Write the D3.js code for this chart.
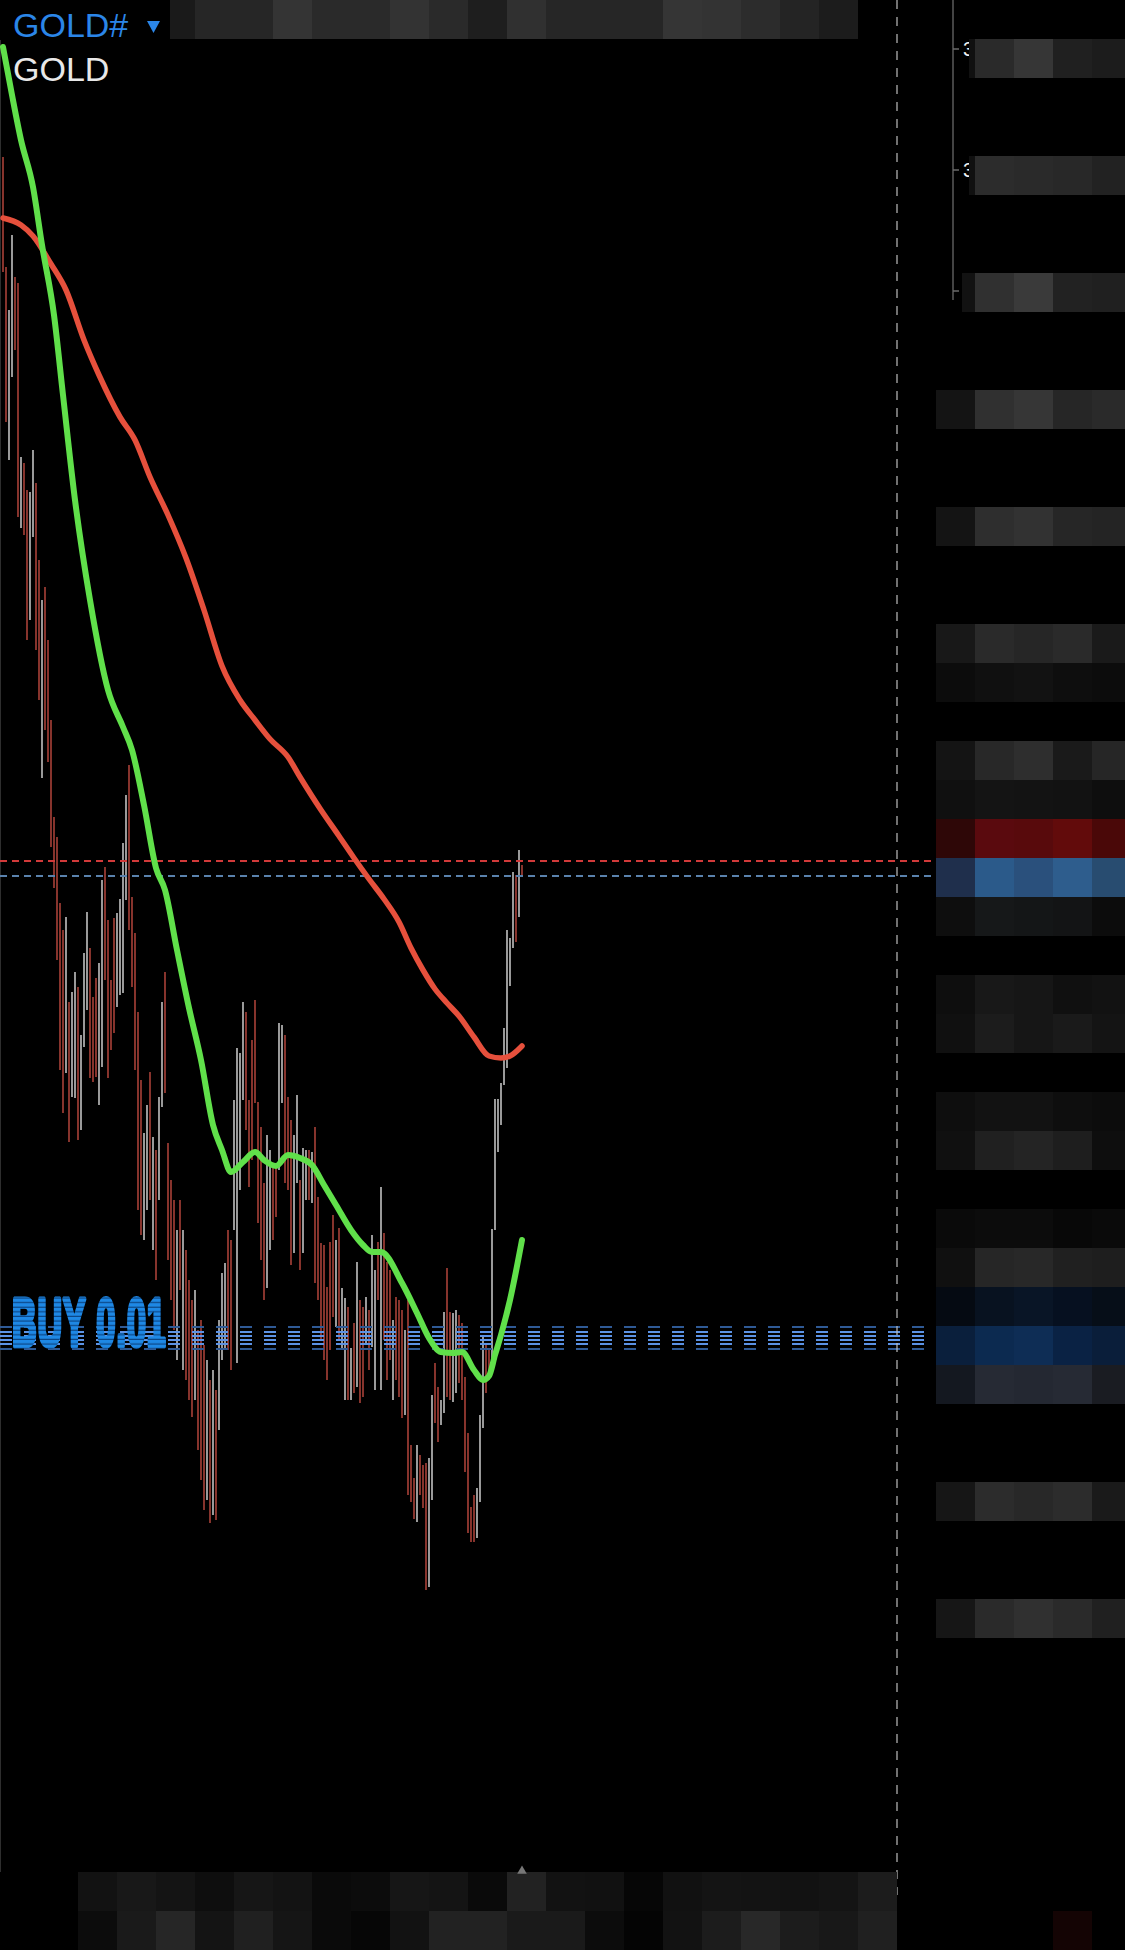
<!DOCTYPE html>
<html><head><meta charset="utf-8">
<script src="https://cdn.jsdelivr.net/npm/d3@7"></script>
<style>html,body{margin:0;padding:0;background:#000;overflow:hidden} svg{display:block}</style>
</head><body>
<svg id="c" width="1125" height="1950"></svg>
<script>
// ---------- DATA ----------
const symbol = "GOLD#";
const symbolName = "GOLD";
const orderLabel = "BUY 0.01";
const highs = [3384.3,3373.3,3369.0,3376.5,3372.3,3371.7,3354.3,3353.7,3351.0,3350.8,
3355.0,3351.7,3344.0,3340.0,3341.3,3336.0,3328.0,3318.3,3316.3,3309.7,
3307.0,3308.3,3299.8,3300.8,3302.8,3301.3,3296.5,3304.7,3308.8,3305.2,
3300.3,3302.2,3303.7,3312.0,3313.3,3308.0,3302.0,3308.2,3308.7,3310.1,
3315.7,3320.5,3323.5,3310.3,3306.7,3298.8,3292.0,3286.7,3289.5,3292.8,
3286.3,3285.0,3290.3,3299.8,3302.8,3285.7,3282.0,3280.0,3277.0,3280.0,
3277.0,3275.0,3272.0,3270.0,3271.0,3267.0,3268.0,3265.5,3264.0,3262.0,
3263.0,3261.0,3268.0,3272.7,3273.7,3277.0,3276.0,3290.0,3295.2,3294.7,
3299.8,3298.8,3290.0,3296.0,3300.0,3289.8,3287.3,3281.7,3286.5,3285.0,
3283.7,3283.3,3297.7,3297.5,3296.5,3290.3,3288.0,3286.5,3290.5,3282.0,
3285.2,3285.0,3285.0,3284.8,3287.3,3280.3,3275.7,3275.5,3271.3,3275.8,
3278.5,3276.0,3277.2,3271.2,3270.2,3269.3,3265.2,3267.7,3273.8,3270.0,
3269.3,3270.3,3269.0,3276.5,3273.0,3275.8,3281.3,3276.7,3273.8,3273.0,
3268.0,3270.3,3270.0,3269.0,3267.0,3270.0,3255.5,3252.2,3255.5,3254.5,
3253.5,3253.7,3254.2,3260.5,3263.7,3261.3,3260.0,3268.8,3273.2,3268.8,
3268.7,3269.0,3268.5,3267.7,3262.3,3256.7,3249.3,3250.5,3251.2,3258.5,
3266.5,3265.5,3265.0,3277.1,3290.1,3290.1,3291.7,3297.2,3307.0,3306.2,
3312.8,3312.5,3315.0,3313.5];
const lows = [3372.8,3357.8,3354.0,3362.3,3365.0,3348.3,3347.2,3346.5,3336.0,3338.0,
3346.3,3335.0,3330.0,3322.2,3327.0,3323.8,3315.3,3311.2,3304.0,3293.0,
3288.7,3292.7,3285.8,3290.3,3290.2,3286.0,3287.0,3295.3,3299.0,3292.2,
3291.8,3292.3,3289.5,3293.3,3302.0,3292.2,3295.0,3296.7,3299.3,3300.5,
3300.7,3310.0,3307.0,3301.3,3293.0,3279.0,3276.5,3276.0,3279.0,3280.0,
3275.0,3272.0,3280.0,3289.3,3290.7,3274.0,3270.0,3267.0,3264.0,3271.0,
3263.0,3262.0,3260.0,3258.3,3260.0,3255.0,3252.0,3249.0,3250.0,3247.7,
3248.5,3248.0,3257.0,3264.0,3265.0,3265.0,3263.0,3277.0,3263.7,3281.0,
3290.0,3287.0,3281.3,3284.0,3289.7,3277.7,3274.0,3270.0,3271.2,3275.0,
3276.0,3278.3,3283.0,3289.7,3281.7,3281.0,3273.5,3274.7,3281.7,3273.0,
3274.7,3280.0,3280.0,3279.7,3271.7,3270.0,3266.0,3264.0,3262.0,3265.0,
3268.3,3267.3,3266.0,3265.0,3260.0,3260.0,3260.0,3260.7,3261.3,3259.7,
3260.3,3265.7,3263.0,3265.3,3261.0,3270.0,3261.0,3266.0,3262.0,3264.0,
3260.0,3262.0,3260.3,3258.2,3258.5,3250.5,3249.8,3248.1,3247.8,3250.5,
3249.2,3241.0,3241.3,3250.0,3257.7,3255.8,3257.5,3258.7,3260.3,3260.0,
3259.8,3260.7,3261.7,3260.0,3252.8,3246.7,3245.8,3245.8,3246.2,3249.8,
3257.2,3260.7,3262.0,3262.7,3277.0,3284.8,3287.5,3291.5,3293.2,3301.4,
3305.2,3305.8,3308.3,3312.3];
// 1 = bullish bar, 0 = bearish bar
const bull = [0,0,1,1,0,0,1,0,0,1, 1,0,0,1,0,0,0,0,0,0, 0,1,0,1,1,0,1,1,1,0,
0,0,1,1,0,0,0,0,1,1, 1,1,0,0,0,0,0,1,1,0, 1,0,1,1,0,0,0,0,1,0,
1,0,0,0,1,0,0,0,1,0, 1,0,1,1,1,0,0,1,1,1, 1,0,0,0,0,0,0,0,1,1,
0,0,1,1,0,0,0,1,1,0, 1,1,0,1,0,0,0,0,0,0, 0,1,0,1,1,0,1,0,1,0,
0,1,0,1,1,0,1,0,0,0, 1,0,0,0,1,0,0,0,1,0, 0,0,1,1,0,0,1,1,0,0,
1,1,0,0,0,0,0,0,1,1, 1,0,0,1,1,1,1,1,1,1, 1,0,1,0];
// fast moving average (green), read at bar positions
const fastIdx = [0,3,6,10,13,17,20,24,29,35,40,43,47,51,54,58,62,66,70,73,76,80,84,87,91,95,99,103,107,111,116,120,123,126,133,138,142,146,150,153,157,160,162,164,166,169,173];
const fastVal = [3395.3,3390.5,3386.0,3381.3,3375.5,3368.5,3360.5,3350.0,3340.0,3331.0,
3327.3,3325.0,3319.5,3313.2,3311.0,3305.0,3299.2,3294.0,3287.5,3285.0,
3282.8,3283.8,3284.8,3284.0,3283.4,3284.5,3284.2,3283.5,3281.5,3279.5,
3277.0,3275.5,3274.8,3274.8,3271.7,3268.7,3266.2,3264.8,3264.7,3264.8,
3263.0,3262.0,3262.4,3264.5,3266.5,3270.0,3276.0];
// slow moving average (red)
const slowIdx = [0,6,10,16,21,27,32,39,44,49,55,61,67,73,79,84,89,95,99,106,112,117,122,127,132,136,140,144,148,152,157,162,166,169,173];
const slowVal = [3378.2,3377.5,3376.4,3373.6,3371.0,3366.0,3362.5,3358.3,3356.0,3352.3,
3348.5,3344.2,3339.0,3333.4,3330.0,3328.0,3326.1,3324.3,3322.3,3319.0,
3316.4,3314.2,3312.1,3310.1,3307.8,3305.2,3303.0,3301.1,3299.7,3298.4,
3296.3,3294.4,3294.2,3294.4,3295.4];
const askPrice = 3313.9;
const bidPrice = 3312.4;
const buyLevels = [3267.3, 3266.8, 3266.4, 3266.0, 3265.6, 3265.1];
const axisTicks = [3395.1, 3383.0, 3370.9];
const axisTickLabels = ["3395.10", "3383.00", "3370.90"];

// ---------- blurred (pixelated) panels: gray levels ----------
const topBarShades = [0x1a,0x26,0x26,0x34,0x2a,0x2a,0x33,0x2a,0x1e,0x30,0x26,0x26,0x26,0x35,0x33,0x2c,0x24,0x1c];
const bottomRowA = [0x12,0x18,0x14,0x0e,0x16,0x13,0x0a,0x0c,0x16,0x14,0x0a,0x22,0x12,0x11,0x06,0x11,0x14,0x13,0x12,0x14,0x1c];
const bottomRowB = [0x0c,0x1a,0x26,0x14,0x20,0x15,0x0a,0x06,0x12,0x22,0x22,0x1a,0x1a,0x0c,0x04,0x12,0x1c,0x28,0x1c,0x18,0x20];
const priceRows = [1,4,7,10,13,16,17,19,20,21,22,23,25,26,28,29,31,32,33,34,35,38,41,49];
const priceRowColors = [
 ["#101010","#2a2a2a","#363636","#202020","#1c1c1c"],
 ["#101010","#2c2c2c","#2a2a2a","#282828","#222222"],
 ["#121212","#303030","#3a3a3a","#222222","#202020"],
 ["#141414","#303030","#363636","#262626","#2a2a2a"],
 ["#141414","#2e2e2e","#323232","#262626","#242424"],
 ["#181818","#2a2a2a","#262626","#2a2a2a","#1a1a1a"],
 ["#0c0c0c","#101010","#121212","#0e0e0e","#0c0c0c"],
 ["#141414","#282828","#2e2e2e","#1a1a1a","#262626"],
 ["#101010","#141414","#131313","#121212","#0e0e0e"],
 ["#2e0707","#5a0a0e","#580a0c","#620b0b","#4a0808"],
 ["#1f2f4c","#2b5a8a","#2a507c","#2e5d8d","#284c70"],
 ["#0e0e0e","#161819","#141617","#131415","#0c0c0c"],
 ["#0e0e0e","#181818","#161616","#101010","#121212"],
 ["#101010","#1c1c1c","#161616","#1a1a1a","#141414"],
 ["#0e0e0e","#121212","#121212","#0e0e0e","#0c0c0c"],
 ["#101010","#202020","#242424","#1e1e1e","#0e0e0e"],
 ["#0a0a0a","#0c0c0c","#0c0c0c","#080808","#0a0a0a"],
 ["#101010","#262626","#282828","#202020","#1e1e1e"],
 ["#050a12","#081220","#091526","#061020","#060e18"],
 ["#0a1f3c","#0c2a50","#0e2d55","#0a2244","#0a1e3a"],
 ["#141820","#262a34","#242832","#262a34","#1a1c22"],
 ["#161616","#2c2c2c","#282828","#2c2c2c","#1a1a1a"],
 ["#161616","#2a2a2a","#303030","#2a2a2a","#202020"],
 ["#000000","#000000","#000000","#140404","#000000"]
];
const priceRowStart = [969,969,962]; // first label rows start a little to the right

// ---------- DRAW ----------
const W = 1125, H = 1950, CELL = 39;
const svg = d3.select("#c");
const defs = svg.append("defs");
const pat = defs.append("pattern").attr("id","stripes").attr("patternUnits","userSpaceOnUse")
  .attr("width",8).attr("height",4.6).attr("y",1294);
pat.append("rect").attr("width",8).attr("height",4.6).attr("fill","#1e88e5");
pat.append("rect").attr("y",3.4).attr("width",8).attr("height",1.2).attr("fill","#0b4584");

svg.append("rect").attr("width", W).attr("height", H).attr("fill", "#000");

const y = d3.scaleLinear().domain([3212.8, 3400]).range([1872, 0]);
const x = d3.scaleLinear().domain([0, highs.length - 1]).range([3, 522]);

// left border
svg.append("line").attr("x1",0.5).attr("x2",0.5).attr("y1",40).attr("y2",1872)
  .attr("stroke","#2e2e2e").attr("stroke-width",1);

// candles (high-low bars)
svg.append("g").selectAll("line").data(d3.range(highs.length)).join("line")
  .attr("x1", i => x(i)).attr("x2", i => x(i))
  .attr("y1", i => y(highs[i])).attr("y2", i => y(lows[i]))
  .attr("stroke", i => bull[i] ? "#dcdcdc" : "#c04a40")
  .attr("stroke-width", 1.4);

// bid/ask dashed lines
svg.append("line").attr("x1",0).attr("x2",940).attr("y1",y(askPrice)).attr("y2",y(askPrice))
  .attr("stroke","#d23a3a").attr("stroke-width",2).attr("stroke-dasharray","7,5");
svg.append("line").attr("x1",0).attr("x2",940).attr("y1",y(bidPrice)).attr("y2",y(bidPrice))
  .attr("stroke","#5a82ad").attr("stroke-width",2).attr("stroke-dasharray","7,5");

// order lines
svg.append("g").selectAll("line").data(buyLevels).join("line")
  .attr("x1",0).attr("x2",928).attr("y1", d => y(d)).attr("y2", d => y(d))
  .attr("stroke", (d,i) => (i === 0 || i === buyLevels.length-1) ? "#2f5a96" : "#5c93e6")
  .attr("stroke-width", 2).attr("stroke-dasharray","12,12");

// moving averages
const lineGen = d3.line().x(d => x(d[0])).y(d => y(d[1])).curve(d3.curveMonotoneX);
svg.append("path").attr("d", lineGen(slowIdx.map((v,i)=>[v, slowVal[i]])))
  .attr("fill","none").attr("stroke","#e6503c").attr("stroke-width",5.5)
  .attr("stroke-linecap","round").attr("stroke-linejoin","round");
svg.append("path").attr("d", lineGen(fastIdx.map((v,i)=>[v, fastVal[i]])))
  .attr("fill","none").attr("stroke","#60e04a").attr("stroke-width",6)
  .attr("stroke-linecap","round").attr("stroke-linejoin","round");

// vertical dashed marker line
svg.append("line").attr("x1",897).attr("x2",897).attr("y1",0).attr("y2",1895)
  .attr("stroke","#bdbdbd").attr("stroke-width",1.2).attr("stroke-dasharray","9,8");

// price axis (top visible part)
const axisG = svg.append("g").attr("transform","translate(953,0)");
axisG.append("line").attr("x1",0).attr("x2",0).attr("y1",0).attr("y2",300)
  .attr("stroke","#5a5a5a").attr("stroke-width",1.5);
axisG.selectAll("line.tick").data(axisTicks).join("line").attr("class","tick")
  .attr("x1",0).attr("x2",6).attr("y1",d=>y(d)).attr("y2",d=>y(d))
  .attr("stroke","#6a6a6a").attr("stroke-width",1.5);
axisG.selectAll("text").data(axisTicks).join("text")
  .attr("x",10).attr("y",d=>y(d)+7).text((d,i)=>axisTickLabels[i])
  .attr("fill","#f0f0f0").attr("font-family","Liberation Sans, Arial, sans-serif").attr("font-size",20);

// pixelated price panel
const colX = [936, 975, 1014, 1053, 1092];
priceRows.forEach((r, ri) => {
  priceRowColors[ri].forEach((c, ci) => {
    let x0 = colX[ci];
    if (ci === 0 && ri < priceRowStart.length) x0 = priceRowStart[ri];
    const x1 = ci < 4 ? colX[ci] + CELL : W;
    svg.append("rect").attr("x", x0).attr("y", r * CELL).attr("width", x1 - x0).attr("height", CELL)
      .attr("fill", c);
  });
});

// pixelated top bar
topBarShades.forEach((s, k) => {
  const x0 = Math.max(170, 156 + k * CELL);
  svg.append("rect").attr("x", x0).attr("y", 0).attr("width", 156 + (k+1)*CELL - x0).attr("height", CELL)
    .attr("fill", d3.rgb(s, s, s));
});

// pixelated time axis
[bottomRowA, bottomRowB].forEach((row, ri) => {
  row.forEach((s, k) => {
    svg.append("rect").attr("x", 78 + k*CELL).attr("y", (48 + ri) * CELL).attr("width", CELL).attr("height", CELL)
      .attr("fill", d3.rgb(s, s, s));
  });
});
// small time marker triangle
svg.append("path").attr("d", d3.symbol().type(d3.symbolTriangle).size(40)())
  .attr("transform","translate(522,1871)").attr("fill","#777");

// symbol texts
svg.append("text").attr("x",13).attr("y",37).text(symbol)
  .attr("fill","#2b86e8").attr("font-family","Liberation Sans, Arial, sans-serif").attr("font-size",34);
svg.append("path").attr("d","M147,21 L160,21 L153.5,33 Z").attr("fill","#2b86e8");
svg.append("text").attr("x",13).attr("y",81).text(symbolName)
  .attr("fill","#e8e8e8").attr("font-family","Liberation Sans, Arial, sans-serif").attr("font-size",34);

// order label (tall, narrow, heavy, striped like the stacked terminal labels)
svg.append("g").attr("transform","translate(12,0) scale(0.5,1)")
  .append("text").attr("x",0).attr("y", y(buyLevels[buyLevels.length-1]) - 3).text(orderLabel)
  .attr("fill","url(#stripes)").attr("stroke","url(#stripes)").attr("stroke-width",5)
  .attr("stroke-linejoin","round")
  .attr("font-family","Liberation Sans, Arial, sans-serif").attr("font-weight","bold")
  .attr("font-size",68).attr("letter-spacing",2);
</script>
</body></html>
